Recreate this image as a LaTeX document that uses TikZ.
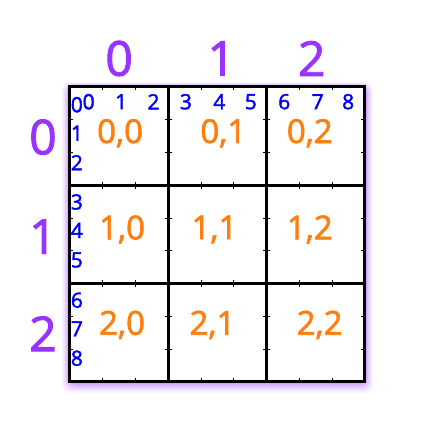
\documentclass[tikz,border=0pt]{standalone}
\usepackage{fontspec}
\setmainfont{Open Sans}[RawFeature={embolden=2}]
\usepackage{tikz}
\definecolor{idxpurple}{HTML}{9933FF}
\definecolor{celorange}{HTML}{FF7F0E}
\definecolor{subblue}{HTML}{0000FF}
\tikzset{
  bigidx/.style={text=idxpurple, font=\fontsize{48}{48}\selectfont, inner sep=0pt},
  cellidx/.style={text=celorange, font=\fontsize{33}{33}\selectfont, inner sep=0pt},
  subidx/.style={text=subblue, font=\fontsize{21}{21}\selectfont, inner sep=0pt}
}
\begin{document}
\begin{tikzpicture}[x=98.3pt, y=-98.3pt]
\useasboundingbox (-0.712,-0.885) rectangle (3.652,3.561);
% purple glow round the board
\foreach \d/\o in {8/0.06, 6.5/0.08, 5/0.11, 3.5/0.14, 2/0.18}
  \fill[idxpurple, opacity=\o, rounded corners=8pt]
    ([shift={(-\d pt,0.6*\d pt)}]0,0) rectangle ([shift={(\d pt,-1.4*\d pt)}]3,3);
\fill[white] (0,0) rectangle (3,3);
% small ticks at the thirds
\begin{scope}
\clip (0,0) rectangle (3,3);
\foreach \i in {0,1,2,3}
  \foreach \t in {0.333,0.667,1.333,1.667,2.333,2.667} {
    \draw[line width=0.8pt] (\i-0.035,\t)--(\i+0.035,\t);
    \draw[line width=0.8pt] (\t,\i-0.035)--(\t,\i+0.035);
  }
\end{scope}
% thick grid
\draw[line width=3pt] (0,0) rectangle (3,3);
\draw[line width=3pt] (1,0)--(1,3);
\draw[line width=3pt] (2,0)--(2,3);
\draw[line width=3pt] (0,1)--(3,1);
\draw[line width=3pt] (0,2)--(3,2);
% big purple indices
\path
(0.50,-0.29) node[bigidx] (col0) {0};
\path
(1.54,-0.29) node[bigidx] (col1) {1};
\path
(2.46,-0.29) node[bigidx] (col2) {2};
\path
(-0.275,0.51) node[bigidx] (row0) {0};
\path
(-0.275,1.52) node[bigidx] (row1) {1};
\path
(-0.275,2.51) node[bigidx] (row2) {2};
% orange cell labels
\path
(0.51,0.47) node[cellidx] (c00) {0,0};
\path
(1.56,0.47) node[cellidx] (c01) {0,1};
\path
(2.44,0.47) node[cellidx] (c02) {0,2};
\path
(0.53,1.45) node[cellidx] (c10) {1,0};
\path
(1.47,1.45) node[cellidx] (c11) {1,1};
\path
(2.44,1.45) node[cellidx] (c12) {1,2};
\path
(0.53,2.42) node[cellidx] (c20) {2,0};
\path
(1.45,2.42) node[cellidx] (c21) {2,1};
\path
(2.54,2.42) node[cellidx] (c22) {2,2};
% blue sub indices along the top
\path
(0.19,0.15) node[subidx] (t0) {0};
\path
(0.52,0.15) node[subidx] (t1) {1};
\path
(0.85,0.15) node[subidx] (t2) {2};
\path
(1.18,0.15) node[subidx] (t3) {3};
\path
(1.52,0.15) node[subidx] (t4) {4};
\path
(1.84,0.15) node[subidx] (t5) {5};
\path
(2.18,0.15) node[subidx] (t6) {6};
\path
(2.52,0.15) node[subidx] (t7) {7};
\path
(2.83,0.15) node[subidx] (t8) {8};
% blue sub indices down the left
\path
(0.07,0.18) node[subidx] (l0) {0};
\path
(0.07,0.47) node[subidx] (l1) {1};
\path
(0.07,0.77) node[subidx] (l2) {2};
\path
(0.07,1.17) node[subidx] (l3) {3};
\path
(0.07,1.46) node[subidx] (l4) {4};
\path
(0.07,1.76) node[subidx] (l5) {5};
\path
(0.07,2.17) node[subidx] (l6) {6};
\path
(0.07,2.46) node[subidx] (l7) {7};
\path
(0.07,2.76) node[subidx] (l8) {8};
\end{tikzpicture}
\end{document}
